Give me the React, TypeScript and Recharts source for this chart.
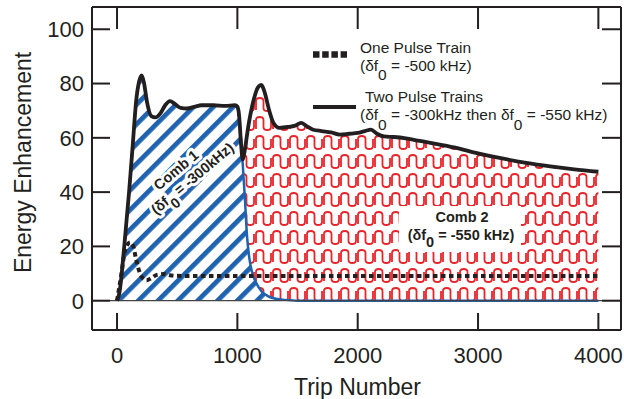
import React from "react";
import { ComposedChart, Area, Line, XAxis, YAxis, ReferenceLine } from "recharts";

// ---- Data ----
const tripTicks = [0, 1000, 2000, 3000, 4000];
const enhancementTicks = [0, 20, 40, 60, 80, 100];

// Two Pulse Trains (solid black)
const twoTrips = [0, 20, 60, 100, 130, 160, 185, 205, 225, 250, 285, 320, 360, 400, 440, 480, 530, 580, 650, 700, 800, 900, 980, 1000, 1015, 1030, 1045, 1060, 1090, 1130, 1170, 1200, 1225, 1265, 1300, 1350, 1420, 1480, 1530, 1570, 1630, 1700, 1780, 1850, 1930, 2000, 2060, 2110, 2160, 2220, 2300, 2400, 2500, 2625, 2800, 3000, 3200, 3400, 3600, 3800, 4000];
const twoValues = [0, 3, 20, 40, 57, 74, 81, 83, 80, 73, 68, 67.5, 69, 72, 73.5, 72.5, 71, 70.8, 71.5, 72, 72, 71.8, 72, 71.5, 68, 58, 52, 55, 64, 73, 78.5, 79.5, 77, 70, 65.5, 63.7, 64, 64.5, 65.5, 64.5, 63, 62.5, 62, 61.2, 61.5, 61.8, 62.5, 63, 61.5, 60.5, 60.3, 59.8, 59, 58, 56.5, 54.3, 52.4, 50.8, 49.5, 48.4, 47.5];

// One Pulse Train (dotted black)
const oneTrips = [0, 30, 70, 110, 135, 155, 180, 210, 245, 285, 330, 390, 450, 550, 700, 1500, 2500, 3500, 4000];
const oneValues = [0, 8, 19, 21.5, 20, 16, 11.5, 8.5, 7.5, 8.3, 9.5, 9.8, 9.3, 9.1, 9.1, 9.1, 9.1, 9.1, 9.1];

// Comb 1 (blue hatched area)
const comb1Trips = [0, 20, 60, 100, 130, 160, 185, 205, 225, 250, 285, 320, 360, 400, 440, 480, 530, 580, 650, 700, 800, 900, 980, 1000, 1015, 1030, 1045, 1062, 1080, 1100, 1125, 1150, 1200, 1250, 1300, 1400, 1500, 2000, 3000, 4000];
const comb1Values = [0, 3, 20, 40, 57, 74, 81, 83, 80, 73, 68, 67.5, 69, 72, 73.5, 72.5, 71, 70.8, 71.5, 72, 72, 71.8, 72, 71.5, 67, 60, 50, 38, 24, 15.5, 10, 7.2, 3.5, 1.8, 0.9, 0.3, 0, 0, 0, 0];

// Comb 2 (red patterned area)
const comb2Trips = [1000, 1015, 1030, 1045, 1060, 1090, 1130, 1170, 1200, 1225, 1265, 1300, 1350, 1420, 1480, 1530, 1570, 1630, 1700, 1780, 1850, 1930, 2000, 2060, 2110, 2160, 2220, 2300, 2400, 2500, 2625, 2800, 3000, 3200, 3400, 3600, 3800, 4000];
const comb2Values = [71.5, 68, 58, 52, 55, 64, 73, 78.5, 79.5, 77, 70, 65.5, 63.7, 64, 64.5, 65.5, 64.5, 63, 62.5, 62, 61.2, 61.5, 61.8, 62.5, 63, 61.5, 60.5, 60.3, 59.8, 59, 58, 56.5, 54.3, 52.4, 50.8, 49.5, 48.4, 47.5];

const toRows = (xs: number[], ys: number[]) => xs.map((x, i) => ({ x, y: ys[i] }));
const twoData = toRows(twoTrips, twoValues);
const oneData = toRows(oneTrips, oneValues);
const comb1Data = toRows(comb1Trips, comb1Values);
const comb2Data = toRows(comb2Trips, comb2Values);

const INK = "#231f20";
const BLUE = "#1f63b0";
const RED = "#e8242b";
const FONT = "'Liberation Sans', Arial, sans-serif";

const LeftTick = (p: any) => (
  <g>
    <line x1={p.x} y1={p.y} x2={p.x + 18} y2={p.y} stroke={INK} strokeWidth={2} />
    <text x={p.x - 8} y={p.y} dy="0.36em" textAnchor="end" fontSize={22} fill={INK} fontFamily={FONT}>
      {p.payload.value}
    </text>
  </g>
);
const RightTick = (p: any) => (
  <line x1={p.x} y1={p.y} x2={p.x - 19} y2={p.y} stroke={INK} strokeWidth={2} />
);
const BottomTick = (p: any) => (
  <g>
    <line x1={p.x} y1={p.y} x2={p.x} y2={p.y - 17} stroke={INK} strokeWidth={2} />
    <text x={p.x} y={p.y + 33} textAnchor="middle" fontSize={22} fill={INK} fontFamily={FONT}>
      {p.payload.value}
    </text>
  </g>
);
const TopTick = (p: any) => (
  <line x1={p.x} y1={p.y} x2={p.x} y2={p.y + 22} stroke={INK} strokeWidth={2} />
);

const xDomain: [number, number] = [-208, 4188];
const yDomain: [number, number] = [-10.8, 108.2];

export default function App() {
  return (
    <div style={{ position: "absolute", left: 0, top: 0, width: 624, height: 399, background: "#fff", fontFamily: FONT }}>
      <ComposedChart width={624} height={399} margin={{ top: 0, right: 0, bottom: 0, left: 0 }}>
        <defs>
          <pattern id="stripes" patternUnits="userSpaceOnUse" width={14} height={14} patternTransform="rotate(45)">
            <rect x={0} y={0} width={14} height={14} fill="#fff" />
            <rect x={0} y={0} width={4.8} height={14} fill={BLUE} />
          </pattern>
          <pattern id="waves" patternUnits="userSpaceOnUse" width={17} height={19}>
            <rect x={0} y={0} width={17} height={19} fill="#fff" />
            <path
              d="M1,15 L1,6 Q1,3 4.75,3 Q8.5,3 8.5,6 L8.5,13 Q8.5,16 12.25,16 Q16,16 16,13 L16,6"
              fill="none"
              stroke={RED}
              strokeWidth={1.8}
            />
            <path d="M16,6 L16,3 M1,15 L1,19" fill="none" stroke={RED} strokeWidth={0} />
          </pattern>
        </defs>
        <XAxis
          xAxisId="b"
          dataKey="x"
          type="number"
          orientation="bottom"
          domain={xDomain}
          allowDataOverflow
          ticks={tripTicks}
          interval={0}
          height={69}
          tickSize={0}
          tickMargin={0}
          tickLine={false}
          axisLine={{ stroke: INK, strokeWidth: 2 }}
          tick={BottomTick}
        />
        <XAxis
          xAxisId="t"
          dataKey="x"
          type="number"
          orientation="top"
          domain={xDomain}
          allowDataOverflow
          ticks={tripTicks}
          interval={0}
          height={7}
          tickSize={0}
          tickMargin={0}
          tickLine={false}
          axisLine={{ stroke: INK, strokeWidth: 2 }}
          tick={TopTick}
        />
        <YAxis
          yAxisId="l"
          type="number"
          orientation="left"
          domain={yDomain}
          allowDataOverflow
          ticks={enhancementTicks}
          interval={0}
          width={92}
          tickSize={0}
          tickMargin={0}
          tickLine={false}
          axisLine={{ stroke: INK, strokeWidth: 2 }}
          tick={LeftTick}
        />
        <YAxis
          yAxisId="r"
          type="number"
          orientation="right"
          domain={yDomain}
          allowDataOverflow
          ticks={enhancementTicks}
          interval={0}
          width={3}
          tickSize={0}
          tickMargin={0}
          tickLine={false}
          axisLine={{ stroke: INK, strokeWidth: 2 }}
          tick={RightTick}
        />
        <Area
          xAxisId="b"
          yAxisId="l"
          data={comb2Data}
          dataKey="y"
          type="monotone"
          baseValue={0}
          fill="url(#waves)"
          fillOpacity={1}
          stroke="none"
          isAnimationActive={false}
          dot={false}
          activeDot={false}
        />
        <ReferenceLine xAxisId="b" yAxisId="l" y={0} stroke="#444" strokeWidth={1.3} />
        <Area
          xAxisId="b"
          yAxisId="l"
          data={comb1Data}
          dataKey="y"
          type="monotone"
          baseValue={0}
          fill="url(#stripes)"
          fillOpacity={1}
          stroke={BLUE}
          strokeWidth={2.5}
          isAnimationActive={false}
          dot={false}
          activeDot={false}
        />
        <Line
          xAxisId="b"
          yAxisId="l"
          data={oneData}
          dataKey="y"
          type="monotone"
          stroke={INK}
          strokeWidth={4}
          strokeDasharray="4.5 3.5"
          dot={false}
          activeDot={false}
          isAnimationActive={false}
        />
        <Line
          xAxisId="b"
          yAxisId="l"
          data={twoData}
          dataKey="y"
          type="monotone"
          stroke={INK}
          strokeWidth={3.8}
          dot={false}
          activeDot={false}
          isAnimationActive={false}
        />
      </ComposedChart>
      <svg
        width={624}
        height={399}
        style={{ position: "absolute", left: 0, top: 0, pointerEvents: "none" }}
        fontFamily={FONT}
      >
        {/* Legend */}
        <line x1={313} y1={54.5} x2={347} y2={54.5} stroke={INK} strokeWidth={6.5} strokeDasharray="6.5 2.7" />
        <text x={360} y={52.5} fontSize={15.5} fill={INK}>One Pulse Train</text>
        <text x={360} y={70.5} fontSize={15.5} fill={INK}>
          (δf<tspan dy={9}>0</tspan><tspan dy={-9}> = -500 kHz)</tspan>
        </text>
        <line x1={313} y1={107} x2={356} y2={107} stroke={INK} strokeWidth={4} />
        <text x={365} y={101.5} fontSize={15.5} fill={INK}>Two Pulse Trains</text>
        <text x={360} y={120} fontSize={15.5} fill={INK}>
          (δf<tspan dy={10}>0</tspan><tspan dy={-10}> = -300kHz then δf</tspan><tspan dy={10}>0</tspan>
          <tspan dy={-10}> = -550 kHz)</tspan>
        </text>

        {/* Comb 1 label */}
        <g transform="translate(176,170) rotate(-40)">
          <text x={0} y={5} textAnchor="middle" fontSize={14.5} fontWeight="bold" fill={INK}
            stroke="#fff" strokeWidth={6} strokeLinejoin="round" style={{ paintOrder: "stroke" }}>
            Comb 1
          </text>
          <text x={7} y={22} textAnchor="middle" fontSize={14.5} fontWeight="bold" fill={INK}
            stroke="#fff" strokeWidth={6} strokeLinejoin="round" style={{ paintOrder: "stroke" }}>
            (δf<tspan dy={8}>0</tspan><tspan dy={-8}> = -300kHz)</tspan>
          </text>
        </g>

        {/* Comb 2 label */}
        <rect x={399} y={206} width={122} height={46} fill="#fff" />
        <text x={462} y={222} textAnchor="middle" fontSize={14.5} fontWeight="bold" fill={INK}>Comb 2</text>
        <text x={461} y={240} textAnchor="middle" fontSize={14.5} fontWeight="bold" fill={INK}>
          (δf<tspan dy={7}>0</tspan><tspan dy={-7}> = -550 kHz)</tspan>
        </text>

        {/* Axis titles */}
        <text x={357.5} y={395} textAnchor="middle" fontSize={23} fill={INK}>Trip Number</text>
        <text transform="translate(31,162.5) rotate(-90)" x={0} y={0} textAnchor="middle" fontSize={23} fill={INK}>
          Energy Enhancement
        </text>
      </svg>
    </div>
  );
}
